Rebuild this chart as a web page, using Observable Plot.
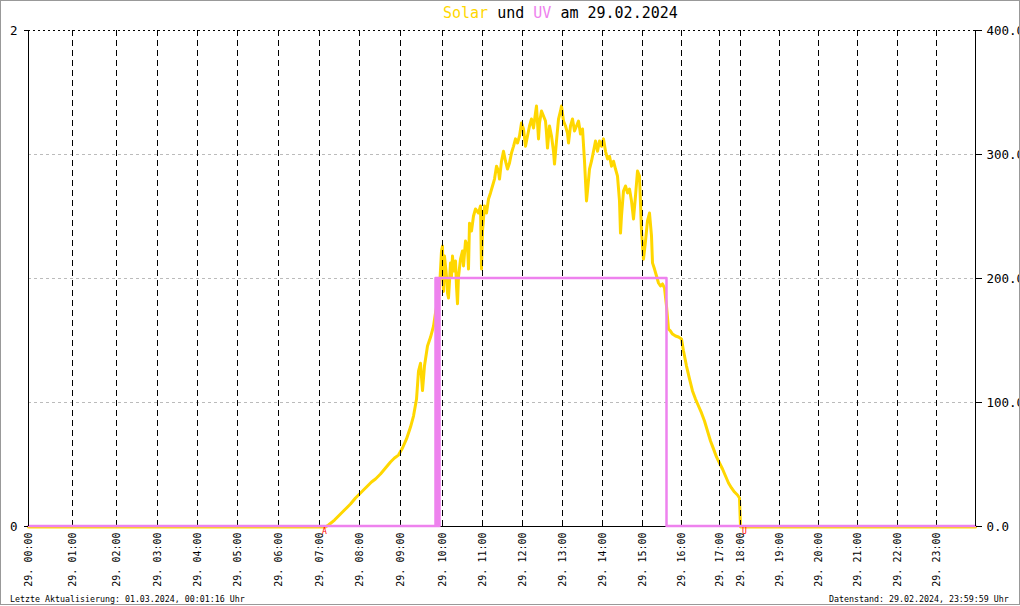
<!DOCTYPE html>
<html>
<head>
<meta charset="utf-8">
<script src="https://cdn.jsdelivr.net/npm/d3@7"></script>
<script src="https://cdn.jsdelivr.net/npm/@observablehq/plot@0.6"></script>
<style>
  html, body { margin: 0; padding: 0; background: #fff; }
  #wrap { position: relative; width: 1020px; height: 605px; box-sizing: border-box; border: 1px solid #999; overflow: hidden; background: #fff; font-family: "DejaVu Sans Mono", monospace; }
  #wrap svg { display: block; }
  .title { position: absolute; left: 442px; top: 4.6px; font-size: 15px; line-height: 15px; white-space: pre; color: #000; }
  .foot { position: absolute; top: 593px; font-size: 8.3px; line-height: 10px; white-space: pre; color: #000; }
</style>
</head>
<body>
<div id="wrap">
  <div class="title"><span style="color:#FFD700">Solar</span> und <span style="color:#EE82EE">UV</span> am 29.02.2024</div>
  <div class="foot" style="left:9px">Letzte Aktualisierung: 01.03.2024, 00:01:16 Uhr</div>
  <div class="foot" style="left:828px">Datenstand: 29.02.2024, 23:59:59 Uhr</div>
</div>
<script>
// ---- data (x = sample index of the logger) ----
const hourLabels = ["29. 00:00","29. 01:00","29. 02:00","29. 03:00","29. 04:00","29. 05:00","29. 06:00","29. 07:00","29. 08:00","29. 09:00","29. 10:00","29. 11:00","29. 12:00","29. 13:00","29. 14:00","29. 15:00","29. 16:00","29. 17:00","29. 18:00","29. 19:00","29. 20:00","29. 21:00","29. 22:00","29. 23:00"];
const hourIdx = [0,44,88,129,169,209,250,291,331,372,414,454,494,534,574,614,653,691,712,751,790,829,869,908];
const lastIdx = 947;

const solarIdx = [0,297,300,306,312,317,322,327,331,335,339,343,347,352,357,362,366,370,374,378,382,385,388,390,392,394,396,399,402,405,407,409,411,413,414,415,416,418,419,420,421,422,423,424,425,427,428,429,430,432,434,435,437,439,440,441,443,445,447,450,452,453,454,456,458,460,462,464,466,468,470,471,473,475,477,479,481,483,485,487,489,491,493,495,497,499,501,503,505,507,508,510,511,513,515,517,518,519,521,523,525,526,528,530,532,533,535,537,539,540,542,544,546,548,550,552,554,556,558,559,561,563,565,567,569,571,573,575,577,579,581,583,585,587,589,591,592,593,595,597,599,601,603,605,607,609,611,613,615,617,619,621,623,624,626,628,630,632,634,636,638,640,642,644,647,650,653,655,658,661,664,667,670,673,676,679,682,685,688,691,694,697,700,703,706,709,711,712,947];
const solarVal = [0,0,1.6,5.6,10.5,14.5,18.5,23.4,26.6,29.8,33.1,36.3,38.7,42.7,47.6,52.4,55.6,58,63.7,71,80.6,89.5,103,125.8,132,110,130,146,153,162,172.6,182,192,222.6,226.6,190,218.5,202,188.7,184.7,198,213,202,218.5,206.5,214.5,194,180,202,216,222.6,210.5,230.6,226.6,208,245,238.7,250.8,256.5,253.2,258.9,208,238.7,258.9,253.2,264.5,269.4,275,280.6,291,287,280.6,295,303,295,288.7,293.5,301.6,307,313,309.7,315.3,325.8,321,307,315.3,323.4,329,321.8,333.9,339.5,313,325.8,335.5,331.5,327.4,317.7,305.6,323.4,315.3,303,292.7,311.3,329,335.5,339.5,327.4,323.4,317.7,309.7,323.4,329,319.4,323.4,327.4,317,321,295,263,271,288.7,295,303,311.3,303,311.3,307,313,303,296.8,299,291,295,288.7,283,263,237,250.8,271,275,269.4,272.6,263,248.4,267,287,283,238.7,216,230.6,246.8,253.2,234.7,213,208,202.4,196.8,194.4,196,192.7,178.2,159.7,158,155.6,154,153.2,151.6,142,129.8,119.4,109.7,103.2,97.6,92,85.5,77.4,69.4,63,56.5,51.6,46.8,41.1,35.5,31.5,28.2,25.8,23.4,0,0];

const uvIdx = [0,407,407,408,408,409,409,410,410,411,411,638,638,947];
const uvVal = [0,0,1,1,0,0,1,1,0,0,1,1,0,0];

const solarTicks = [0,100,200,300,400];
const uvTicks = [0,2];
const markers = [{i: 296, t: "A"}, {i: 716, t: "U"}]; // Sonnenaufgang / -untergang

// ---- build tables ----
const uvMax = 2, solarMax = 400, k = solarMax / uvMax;
const solar = solarIdx.map((i, n) => ({i, v: solarVal[n]}));
const uv = uvIdx.map((i, n) => ({i, v: uvVal[n] * k}));
const labelOf = new Map(hourIdx.map((d, n) => [d, hourLabels[n]]));

const chart = Plot.plot({
  width: 1018,
  height: 603,
  marginLeft: 27,
  marginRight: 44,
  marginTop: 29,
  marginBottom: 78,
  style: {fontFamily: "DejaVu Sans Mono, monospace", fontSize: "10px", background: "white", color: "black"},
  x: {domain: [0, lastIdx], axis: null},
  y: {domain: [0, solarMax]},
  marks: [
    Plot.ruleY(solarTicks.slice(1, -1), {stroke: "#bbbbbb", strokeDasharray: "3,3"}),
    Plot.ruleY([solarMax], {stroke: "black", strokeDasharray: "2,3"}),
    Plot.ruleY([0], {stroke: "black"}),
    Plot.line(solar, {x: "i", y: "v", stroke: "#FFD700", strokeWidth: 3, dy: 0.5}),
    Plot.ruleX(hourIdx.slice(1), {stroke: "black", strokeDasharray: "6,4"}),
    Plot.line(uv, {x: "i", y: "v", stroke: "#EE82EE", strokeWidth: 2.5, dy: -0.5}),
    Plot.ruleX([0, lastIdx], {stroke: "black"}),
    Plot.axisY({anchor: "left", ticks: uvTicks.map(d => d * k), tickFormat: d => String(d / k), tickSize: 4, tickPadding: 7, fontSize: 12.5, label: null}),
    Plot.axisY({anchor: "right", ticks: solarTicks, tickFormat: d => d.toFixed(1), tickSize: 6, tickPadding: 5, fontSize: 12.5, label: null}),
    Plot.text(hourIdx, {x: d => d, text: d => labelOf.get(d), frameAnchor: "bottom", dy: 6, rotate: -90, textAnchor: "end", lineAnchor: "middle", fontSize: 10, fill: "black"}),
    Plot.text(markers, {x: "i", text: "t", frameAnchor: "bottom", dy: 1.5, lineAnchor: "top", fill: "red", fontSize: 8})
  ]
});
document.getElementById("wrap").appendChild(chart);
</script>
</body>
</html>
